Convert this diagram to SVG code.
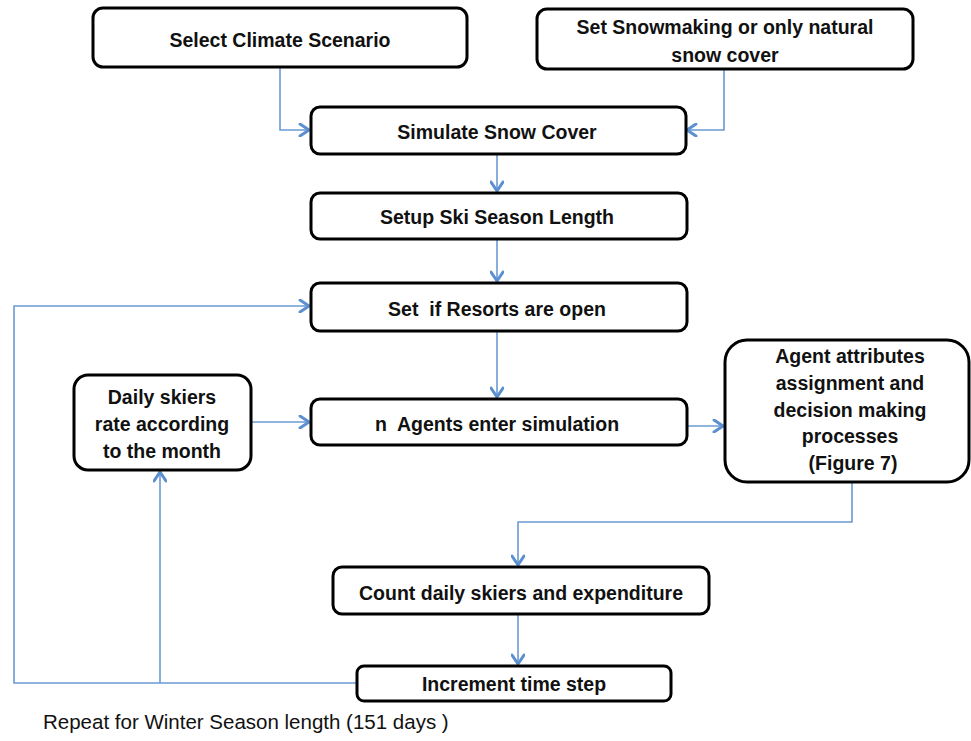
<svg xmlns="http://www.w3.org/2000/svg" width="971" height="741" viewBox="0 0 971 741">
<defs>
<marker id="ah" markerWidth="14" markerHeight="14" viewBox="0 0 14 14" refX="12" refY="7" orient="auto" markerUnits="userSpaceOnUse">
<path d="M3,1 L12,7 L3,13" fill="none" stroke="#5b8fcf" stroke-width="3" stroke-linecap="round" stroke-linejoin="round"/>
</marker>
<style>
.box{fill:#fff;stroke:#000;stroke-width:3}
.t{font-family:"Liberation Sans",Arial,sans-serif;font-weight:bold;font-size:19.5px;fill:#111;text-anchor:middle}
.r{font-family:"Liberation Sans",Arial,sans-serif;font-size:20.5px;fill:#111}
.c{fill:none;stroke:#6a9bd3;stroke-width:1.6}
.a{marker-end:url(#ah)}
</style>
</defs>
<rect width="971" height="741" fill="#fff"/>
<g id="connectors">
<path class="c a" d="M280,67 V130 H309"/>
<path class="c a" d="M724,69 V130 H687"/>
<path class="c a" d="M497,154 V191"/>
<path class="c a" d="M497,239 V281"/>
<path class="c a" d="M497,331 V397"/>
<path class="c a" d="M251,422 H309"/>
<path class="c a" d="M687,426 H723"/>
<path class="c a" d="M852,482 V522 H518 V565"/>
<path class="c a" d="M518,614 V664"/>
<path class="c a" d="M357,683 H14 V306 H309"/>
<path class="c a" d="M160,683 V472"/>
</g>
<g id="n1"><rect class="box" x="93" y="8" width="374" height="59" rx="10"/><text class="t" x="280" y="47">Select Climate Scenario</text></g>
<g id="n2"><rect class="box" x="537" y="9" width="376" height="60" rx="10"/><text class="t" x="725" y="34">Set Snowmaking or only natural</text><text class="t" x="725" y="62">snow cover</text></g>
<g id="n3"><rect class="box" x="311" y="107" width="375" height="47" rx="9"/><text class="t" x="497" y="139">Simulate Snow Cover</text></g>
<g id="n4"><rect class="box" x="311" y="193" width="376" height="46" rx="9"/><text class="t" x="497" y="224">Setup Ski Season Length</text></g>
<g id="n5"><rect class="box" x="311" y="283" width="376" height="48" rx="9"/><text class="t" x="497" y="316" xml:space="preserve">Set  if Resorts are open</text></g>
<g id="n6"><rect class="box" x="311" y="399" width="376" height="46" rx="9"/><text class="t" x="497" y="431" xml:space="preserve">n  Agents enter simulation</text></g>
<g id="n7"><rect class="box" x="74" y="375" width="177" height="95" rx="14"/><text class="t" x="162" y="404">Daily skiers</text><text class="t" x="162" y="431">rate according</text><text class="t" x="162" y="458">to the month</text></g>
<g id="n8"><rect class="box" x="725" y="340" width="244" height="142" rx="22"/><text class="t" x="850" y="363">Agent attributes</text><text class="t" x="850" y="390">assignment and</text><text class="t" x="850" y="417">decision making</text><text class="t" x="850" y="443">processes</text><text class="t" x="853" y="470">(Figure 7)</text></g>
<g id="n9"><rect class="box" x="333" y="567" width="376" height="47" rx="9"/><text class="t" x="521" y="600">Count daily skiers and expenditure</text></g>
<g id="n10"><rect class="box" x="357" y="666" width="314" height="35" rx="7"/><text class="t" x="514" y="691">Increment time step</text></g>
<text class="r" x="43" y="729">Repeat for Winter Season length (151 days )</text>
</svg>
